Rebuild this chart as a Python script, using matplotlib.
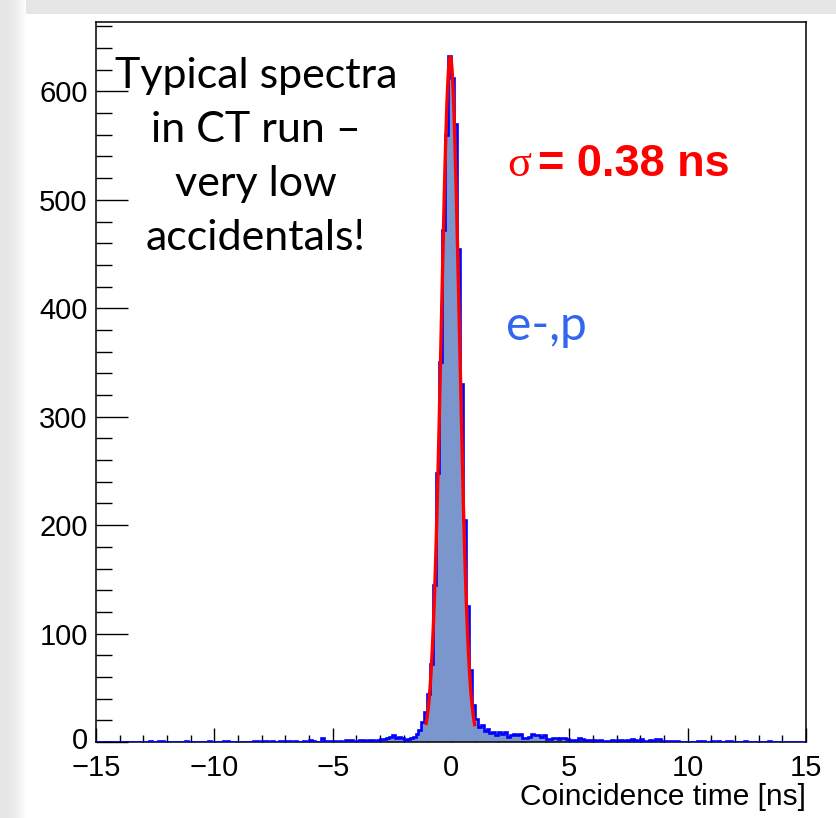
import numpy as np
import matplotlib
matplotlib.use("Agg")
import matplotlib.pyplot as plt
from matplotlib.ticker import MultipleLocator
from matplotlib.patches import Rectangle
from matplotlib.transforms import ScaledTranslation

# ---------------- data ----------------
x_min, x_max = -15.0, 15.0
bin_width = 0.125
# counts per 0.125 ns bin, one row per 1 ns (from -15 to +15)
counts_rows = [
    [0, 0, 0, 0, 0, 0, 0, 0],          # -15..-14
    [0, 0, 0, 0, 0, 0, 0, 0],          # -14..-13
    [0, 0, 1, 0, 0, 1, 1, 0],          # -13..-12
    [0, 0, 0, 0, 0, 0, 1, 0],          # -12..-11
    [0, 0, 0, 0, 0, 0, 1, 0],          # -11..-10
    [0, 0, 0, 1, 1, 0, 0, 0],          # -10..-9
    [0, 0, 0, 0, 0, 1, 1, 0],          # -9..-8
    [1, 1, 0, 1, 0, 0, 1, 1],          # -8..-7
    [1, 1, 0, 1, 0, 0, 1, 0],          # -7..-6
    [2, 1, 0, 0, 4, 1, 1, 1],          # -6..-5
    [1, 0, 1, 0, 2, 2, 2, 0],          # -5..-4
    [1, 2, 2, 1, 2, 2, 1, 2],          # -4..-3
    [3, 3, 4, 5, 6, 4, 5, 4],          # -3..-2
    [2, 3, 4, 5, 7, 11, 18, 28],       # -2..-1
    [44, 72, 145, 248, 350, 472, 560, 633],   # -1..0
    [612, 570, 455, 330, 205, 125, 66, 34],   # 0..1
    [21, 14, 16, 10, 12, 8, 9, 6],     # 1..2
    [9, 7, 9, 5, 6, 7, 6, 7],          # 2..3
    [4, 4, 5, 7, 6, 6, 5, 6],          # 3..4
    [3, 3, 4, 4, 3, 4, 4, 3],          # 4..5
    [2, 2, 2, 4, 3, 2, 2, 2],          # 5..6
    [2, 1, 2, 1, 1, 1, 2, 1],          # 6..7
    [2, 2, 1, 2, 2, 3, 2, 1],          # 7..8
    [3, 1, 1, 2, 1, 3, 3, 1],          # 8..9
    [1, 1, 1, 1, 1, 0, 0, 0],          # 9..10
    [0, 0, 0, 1, 0, 1, 0, 0],          # 10..11
    [1, 0, 1, 0, 0, 1, 1, 0],          # 11..12
    [0, 0, 0, 1, 0, 0, 0, 0],          # 12..13
    [0, 0, 0, 1, 0, 0, 0, 0],          # 13..14
    [0, 0, 0, 0, 0, 0, 0, 0],          # 14..15
]
counts = np.array([c for row in counts_rows for c in row], dtype=float)

y_max = 664
fit_amp = 632.0
fit_mean = -0.03
fit_sigma = 0.38
fit_lo, fit_hi = -1.05, 1.0

x_major_ticks = [-15, -10, -5, 0, 5, 10, 15]
y_major_ticks = [0, 100, 200, 300, 400, 500, 600]
x_label = "Coincidence time [ns]"
note_text = "Typical spectra\nin CT run \u2013\nvery low\naccidentals!"
sigma_symbol = "\u03c3"
sigma_text = "= 0.38 ns"
reaction_text = "e-,p"

# ---------------- figure ----------------
W, H = 836, 818
fig = plt.figure(figsize=(W / 100, H / 100), dpi=100)
fig.patch.set_facecolor("white")

# grey page border (top strip and shaded left strip)
fig.add_artist(Rectangle((0, 1 - 14 / H), 1, 14 / H, transform=fig.transFigure,
                         color="#e6e6e6", lw=0, zorder=0))
for i in range(26):
    g = 0.90 + 0.09 * (i / 25) ** 2
    fig.add_artist(Rectangle((i / W, 0), 1 / W + 0.0005, 1, transform=fig.transFigure,
                             color=(g, g, g), lw=0, zorder=0))

ax_l, ax_r, ax_t, ax_b = 96, 806, 22, 742
ax = fig.add_axes([ax_l / W, 1 - ax_b / H, (ax_r - ax_l) / W, (ax_b - ax_t) / H])

edges = x_min + bin_width * np.arange(len(counts) + 1)
ax.stairs(counts, edges, fill=True, color="#7b96cc", lw=0, zorder=2)
ax.stairs(counts, edges, fill=False, color="#0000ff", lw=1.9, zorder=3)

xf = np.linspace(fit_lo, fit_hi, 400)
yf = fit_amp * np.exp(-0.5 * ((xf - fit_mean) / fit_sigma) ** 2)
ax.plot(xf, yf, color="#ff0000", lw=2.4, zorder=4)

ax.set_xlim(x_min, x_max)
ax.set_ylim(0, y_max)

ax.xaxis.set_major_locator(MultipleLocator(5))
ax.xaxis.set_minor_locator(MultipleLocator(1))
ax.yaxis.set_major_locator(MultipleLocator(100))
ax.yaxis.set_minor_locator(MultipleLocator(20))
ax.set_xticks(x_major_ticks)
ax.set_yticks(y_major_ticks)

lab_font = dict(family=["Liberation Sans", "DejaVu Sans"], size=21)
ax.set_xticklabels([("\u2212" + str(-v)) if v < 0 else str(v) for v in x_major_ticks], **lab_font)
ax.set_yticklabels([str(v) for v in y_major_ticks], **lab_font)

ax.tick_params(axis="x", which="major", direction="in", length=10, width=1.0, pad=8.5,
               top=False, color="black")
ax.tick_params(axis="x", which="minor", direction="in", length=5.4, width=1.0, top=False)
ax.tick_params(axis="y", which="major", direction="in", length=23, width=1.0, pad=6,
               right=False)
ax.tick_params(axis="y", which="minor", direction="in", length=11.5, width=1.0, right=False)

# lift the y-axis "0" a little, as in the reference
zero_lab = ax.yaxis.get_major_ticks()[0].label1
zero_lab.set_transform(zero_lab.get_transform() +
                       ScaledTranslation(0, 4 / 100, fig.dpi_scale_trans))

for s in ax.spines.values():
    s.set_linewidth(1.1)
    s.set_color("black")

fig.text(ax_r / W, 1 - 797 / H, x_label, ha="right", va="center",
         family=["Liberation Sans", "DejaVu Sans"], size=21.5)

def fx(px):
    return px / W

def fy(py):
    return 1 - py / H

fig.text(fx(256), fy(157), note_text, ha="center", va="center", multialignment="center",
         family=["Lato", "DejaVu Sans"], fontsize=31, linespacing=1.52, color="black")

fig.text(fx(531), fy(165), sigma_symbol, ha="right", va="center",
         family=["Liberation Serif", "DejaVu Serif"], fontsize=32, color="#ff0000")
fig.text(fx(538), fy(165), sigma_text, ha="left", va="center",
         family=["Liberation Sans", "DejaVu Sans"], fontweight="bold", fontsize=32.5, color="#ff0000")

fig.text(fx(546), fy(326), reaction_text, ha="center", va="center",
         family=["Lato", "DejaVu Sans"], fontsize=34.5, color="#3366ee")

fig.savefig("out.png", dpi=100, facecolor=fig.get_facecolor())
